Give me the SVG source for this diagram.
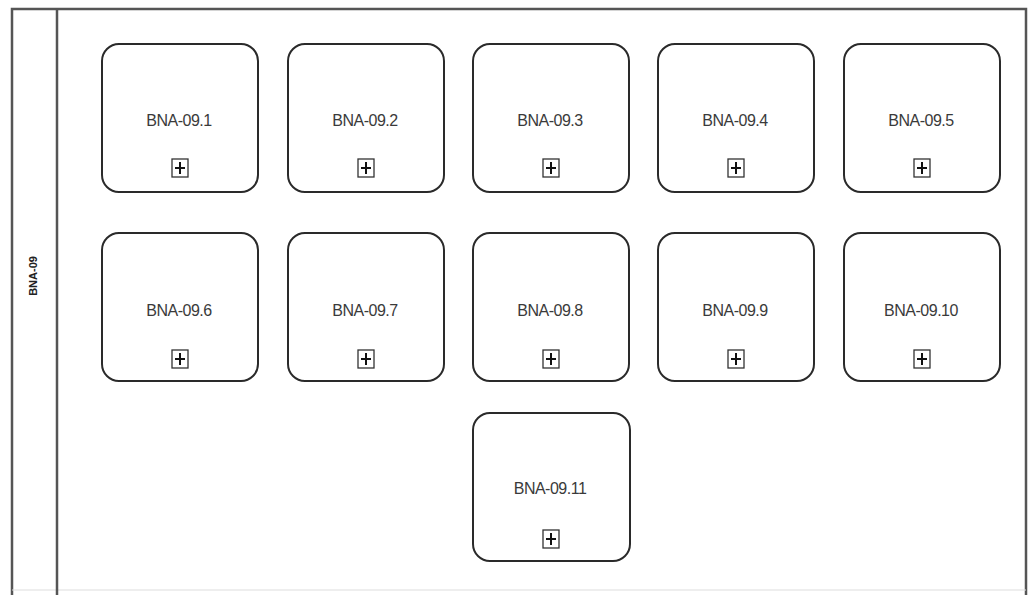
<svg xmlns="http://www.w3.org/2000/svg" width="1029" height="595" viewBox="0 0 1029 595">
<style>
.frame{fill:none;stroke:#555;stroke-width:2.5}
.node{fill:#fff;stroke:#2a2a2a;stroke-width:2}
.lbl{font-family:"Liberation Sans",Arial,sans-serif;font-size:16px;fill:#3a3a3a;text-anchor:middle;letter-spacing:-0.5px}
.pl{fill:#fff;stroke:#333;stroke-width:1.3}
.pc{stroke:#111;stroke-width:2}
.lane{font-family:"Liberation Sans",Arial,sans-serif;font-size:11px;font-weight:bold;fill:#222;text-anchor:middle}
</style>
<defs>
<g id="plus">
<rect class="pl" x="-8" y="-9" width="16" height="18"/>
<line class="pc" x1="-5" y1="0" x2="5" y2="0"/>
<line class="pc" x1="0" y1="-6" x2="0" y2="6"/>
</g>
</defs>
<rect width="1029" height="595" fill="#fff"/>
<g id="pool">
<path class="frame" d="M12,595 L12,9 L1026,9 L1026,595"/>
<line x1="12" y1="590" x2="1026" y2="590" stroke="#ddd" stroke-width="1"/>
<line class="frame" x1="57" y1="9" x2="57" y2="595"/>
<text class="lane" transform="translate(37,276) rotate(-90)">BNA-09</text>
</g>
<g id="connectors"></g>
<g id="n1"><rect class="node" x="102" y="44" width="156" height="148" rx="17"/><text class="lbl" x="179" y="126">BNA-09.1</text><use href="#plus" x="180" y="168"/></g>
<g id="n2"><rect class="node" x="288" y="44" width="156" height="148" rx="17"/><text class="lbl" x="365" y="126">BNA-09.2</text><use href="#plus" x="366" y="168"/></g>
<g id="n3"><rect class="node" x="473" y="44" width="156" height="148" rx="17"/><text class="lbl" x="550" y="126">BNA-09.3</text><use href="#plus" x="551" y="168"/></g>
<g id="n4"><rect class="node" x="658" y="44" width="156" height="148" rx="17"/><text class="lbl" x="735" y="126">BNA-09.4</text><use href="#plus" x="736" y="168"/></g>
<g id="n5"><rect class="node" x="844" y="44" width="156" height="148" rx="17"/><text class="lbl" x="921" y="126">BNA-09.5</text><use href="#plus" x="922" y="168"/></g>
<g id="n6"><rect class="node" x="102" y="233" width="156" height="148" rx="17"/><text class="lbl" x="179" y="316">BNA-09.6</text><use href="#plus" x="180" y="359"/></g>
<g id="n7"><rect class="node" x="288" y="233" width="156" height="148" rx="17"/><text class="lbl" x="365" y="316">BNA-09.7</text><use href="#plus" x="366" y="359"/></g>
<g id="n8"><rect class="node" x="473" y="233" width="156" height="148" rx="17"/><text class="lbl" x="550" y="316">BNA-09.8</text><use href="#plus" x="551" y="359"/></g>
<g id="n9"><rect class="node" x="658" y="233" width="156" height="148" rx="17"/><text class="lbl" x="735" y="316">BNA-09.9</text><use href="#plus" x="736" y="359"/></g>
<g id="n10"><rect class="node" x="844" y="233" width="156" height="148" rx="17"/><text class="lbl" x="921" y="316">BNA-09.10</text><use href="#plus" x="922" y="359"/></g>
<g id="n11"><rect class="node" x="473" y="413" width="157" height="148" rx="17"/><text class="lbl" x="550" y="494">BNA-09.11</text><use href="#plus" x="551" y="539"/></g>
</svg>
